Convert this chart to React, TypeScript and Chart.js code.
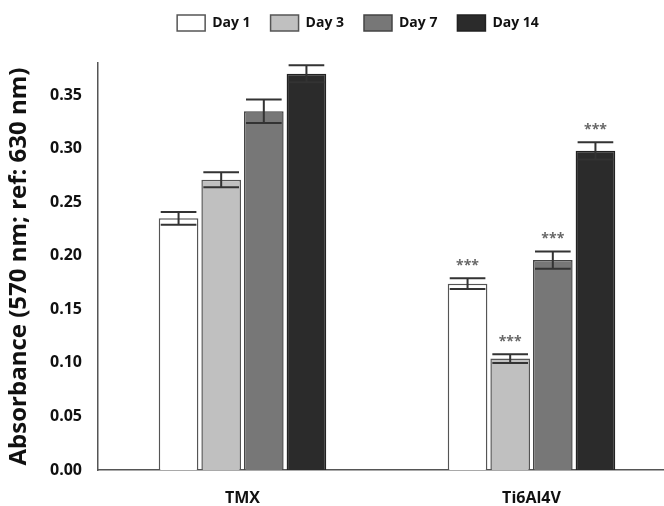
import React, { useEffect, useRef } from "react";
import { Chart, registerables } from "chart.js";

Chart.register(...registerables);

const categories = ["TMX", "Ti6Al4V"];
const seriesNames = ["Day 1", "Day 3", "Day 7", "Day 14"];
const day1 = [0.235, 0.174];
const day3 = [0.271, 0.104];
const day7 = [0.335, 0.196];
const day14 = [0.370, 0.298];
const err1 = [0.006, 0.005];
const err3 = [0.007, 0.004];
const err7 = [0.011, 0.008];
const err14 = [0.008, 0.008];
const signif1 = ["", "***"];
const signif3 = ["", "***"];
const signif7 = ["", "***"];
const signif14 = ["", "***"];
const yTicks = [0, 0.05, 0.1, 0.15, 0.2, 0.25, 0.3, 0.35];

const values = [day1, day3, day7, day14];
const errors = [err1, err3, err7, err14];
const signifs = [signif1, signif3, signif7, signif14];
const fills = ["#ffffff", "#c0c0c0", "#777777", "#2b2b2b"];
const borders = ["#555555", "#555555", "#444444", "#222222"];

const FONT = "'Open Sans', 'Liberation Sans', sans-serif";

const legendHeightPlugin = {
  id: "legendHeight",
  beforeInit(chart: any) {
    const legend = chart.legend;
    if (!legend) return;
    const origFit = legend.fit;
    legend.fit = function () {
      origFit.call(this);
      this.height = 63;
    };
    const origDraw = legend.draw;
    legend.draw = function () {
      const ctx = this.ctx;
      ctx.save();
      ctx.translate(-4, -5);
      origDraw.call(this);
      ctx.restore();
    };
  },
};

const errorBarPlugin = {
  id: "errorBars",
  afterDatasetsDraw(chart: any) {
    const ctx = chart.ctx;
    const yScale = chart.scales.y;
    ctx.save();
    values.forEach((vals, i) => {
      const meta = chart.getDatasetMeta(i);
      meta.data.forEach((bar: any, j: number) => {
        const v = vals[j];
        const e = errors[i][j];
        const yTop = yScale.getPixelForValue(v + e);
        const yBot = yScale.getPixelForValue(v - e);
        const x = bar.x;
        const half = bar.width * 0.45;
        ctx.strokeStyle = "#333333";
        ctx.lineWidth = 2;
        ctx.beginPath();
        ctx.moveTo(x, yTop);
        ctx.lineTo(x, yBot);
        ctx.moveTo(x - half, yTop);
        ctx.lineTo(x + half, yTop);
        ctx.moveTo(x - half, yBot);
        ctx.lineTo(x + half, yBot);
        ctx.stroke();
        const s = signifs[i][j];
        if (s) {
          ctx.fillStyle = "#666666";
          ctx.font = `bold 14px ${FONT}`;
          ctx.textAlign = "center";
          ctx.textBaseline = "middle";
          ctx.fillText(s, x, yTop - 12);
        }
      });
    });
    ctx.restore();
  },
};

export default function App() {
  const ref = useRef<HTMLCanvasElement>(null);
  useEffect(() => {
    if (!ref.current) return;
    const chart = new Chart(ref.current, {
      type: "bar",
      data: {
        labels: categories,
        datasets: seriesNames.map((name, i) => ({
          label: name,
          data: values[i],
          backgroundColor: fills[i],
          borderColor: borders[i],
          borderWidth: 1.5,
          categoryPercentage: 0.59,
          barPercentage: 0.93,
        })),
      },
      options: {
        responsive: false,
        animation: false,
        layout: { padding: 0 },
        plugins: {
          legend: {
            display: true,
            position: "top",
            labels: {
              boxWidth: 28,
              boxHeight: 16,
              padding: 20,
              color: "#111111",
              font: { family: FONT, size: 14, weight: "bold" },
            },
          },
          tooltip: { enabled: false },
        },
        scales: {
          x: {
            grid: { display: false, drawTicks: false },
            border: { display: true, color: "#555555", width: 1.5 },
            ticks: {
              padding: 19,
              color: "#111111",
              font: { family: FONT, size: 16, weight: "bold" },
            },
            afterFit(scale: any) {
              scale.height = 36;
            },
          },
          y: {
            min: 0,
            max: 0.38,
            afterBuildTicks(scale: any) {
              scale.ticks = yTicks.map((v) => ({ value: v }));
            },
            grid: { display: false, drawTicks: false },
            border: { display: true, color: "#555555", width: 1.5 },
            ticks: {
              padding: 16,
              color: "#111111",
              font: { family: FONT, size: 16, weight: "bold" },
              callback: (v: any) => Number(v).toFixed(2),
            },
            title: {
              display: true,
              text: "Absorbance (570 nm; ref: 630 nm)",
              color: "#111111",
              font: { family: FONT, size: 24, weight: "bold" },
              padding: { top: 5, bottom: 0 },
            },
            afterFit(scale: any) {
              scale.width = 98;
            },
          },
          yPad: {
            type: "linear",
            position: "right",
            display: true,
            min: 0,
            max: 0.38,
            grid: { display: false, drawTicks: false },
            border: { display: false },
            ticks: { display: false },
            afterFit(scale: any) {
              scale.width = 48;
            },
          },
        },
      },
      plugins: [legendHeightPlugin, errorBarPlugin],
    });
    return () => chart.destroy();
  }, []);
  return (
    <div style={{ position: "fixed", left: 0, top: 0, width: 664, height: 506, overflow: "hidden", background: "#fff" }}>
      <canvas ref={ref} width={724} height={506} style={{ width: 724, height: 506, display: "block" }} />
    </div>
  );
}
